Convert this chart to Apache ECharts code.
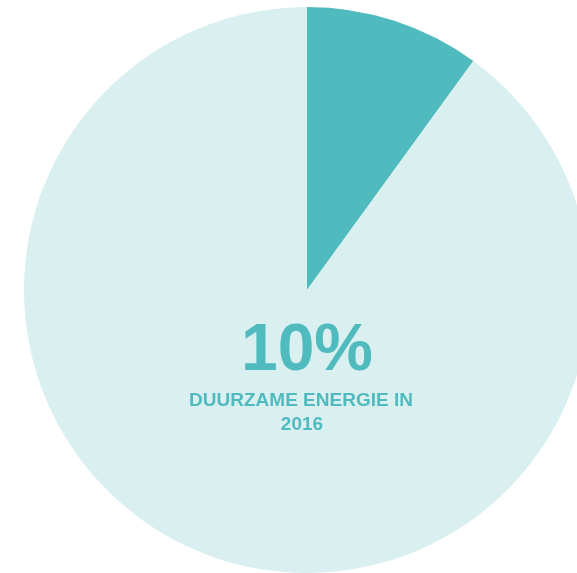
<!DOCTYPE html>
<html>
<head>
<meta charset="utf-8">
<script src="https://cdn.jsdelivr.net/npm/echarts@6/dist/echarts.min.js"></script>
<style>
  html, body { margin: 0; padding: 0; background: #ffffff; }
  #chart { width: 577px; height: 573px; }
</style>
</head>
<body>
<div id="chart"></div>
<script>
// share of sustainable energy, rest
var categories = ['Duurzame energie', 'Overig'];
var values = [10, 90];
var sliceColors = ['#50bbbe', '#daf0f0'];
var bigLabel = '10%';
var subLabel = ['DUURZAME ENERGIE IN', '2016'];

var chart = echarts.init(document.getElementById('chart'));

var option = {
    animation: false,
    backgroundColor: '#ffffff',
    graphic: [
        {
            type: 'text', z: 10,
            style: {
                x: 307, y: 352, text: bigLabel,
                fill: '#50bbbe', font: 'bold 66px "Liberation Sans", Arial, sans-serif',
                textAlign: 'center', textVerticalAlign: 'middle'
            }
        },
        {
            type: 'text', z: 10,
            style: {
                x: 301, y: 401, text: subLabel[0],
                fill: '#50bbbe', font: 'bold 19px "Liberation Sans", Arial, sans-serif',
                textAlign: 'center', textVerticalAlign: 'middle'
            }
        },
        {
            type: 'text', z: 10,
            style: {
                x: 302, y: 425, text: subLabel[1],
                fill: '#50bbbe', font: 'bold 19px "Liberation Sans", Arial, sans-serif',
                textAlign: 'center', textVerticalAlign: 'middle'
            }
        }
    ],
    series: [
        {
            type: 'pie',
            center: [307, 290],
            radius: [0, 283],
            startAngle: 90,
            clockwise: true,
            silent: true,
            label: { show: false },
            labelLine: { show: false },
            itemStyle: { borderWidth: 0 },
            data: categories.map(function (c, i) {
                return { name: c, value: values[i], itemStyle: { color: sliceColors[i] } };
            })
        }
    ]
};

chart.setOption(option);
</script>
</body>
</html>
